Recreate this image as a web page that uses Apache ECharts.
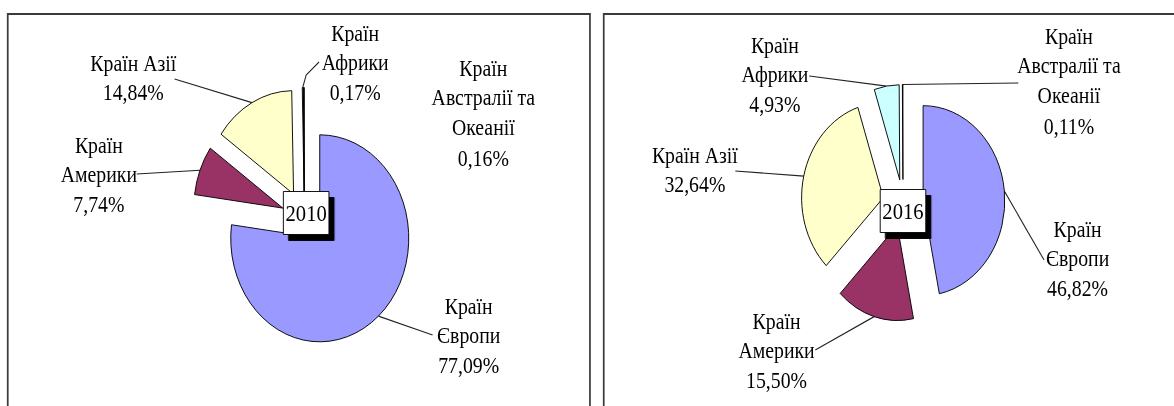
<!DOCTYPE html>
<html lang="uk">
<head>
  <meta charset="UTF-8">
  <title>Pie 2010 / 2016</title>
  <style>
    body {margin: 0; background: #fff; overflow: hidden;}
    /* the original picture is squeezed horizontally, so is this one */
    #main {width: 1365px; height: 406px; transform: scaleX(0.86); transform-origin: 0 0;}
  </style>
</head>
<body>
  <div id="main"></div>

  <script src="https://cdn.jsdelivr.net/npm/echarts@6/dist/echarts.min.js"></script>
  <script>
    // дані
    var regions = ['Країн\nЄвропи', 'Країн\nАмерики', 'Країн Азії', 'Країн\nАфрики', 'Країн\nАвстралії та\nОкеанії'];
    var share2010 = [77.09, 7.74, 14.84, 0.17, 0.16];
    var share2016 = [46.82, 15.50, 32.64, 4.93, 0.11];
    var years = ['2010', '2016'];

    var colors = ['#9999FF', '#993366', '#FFFFCC', '#CCFFFF', '#660066'];

    // label placement (unscaled px): top-centre of every label block, and where its leader ends
    var labelPos = [
      [[545, 291], [115, 130], [155, 48], [413, 18], [562, 53]],
      [[1253, 214], [903, 306], [808, 140], [901, 30], [1243, 21]]
    ];
    var lineEnd = [
      [[[503, 335]], [[159, 174]], [[203, 79]], [[356, 75], [371, 62]], null],
      [[[1214, 260]], [[948, 350]], [[855, 171]], [[941, 76]], [[1184, 83]]]
    ];

    var chart = echarts.init(document.getElementById('main'), null, {renderer: 'svg'});

    function pct(v) {
      return v.toFixed(2).replace('.', ',') + '%';
    }

    // exploded slices, no labels
    function sliceSeries(values, center, radius, offset) {
      return {
        type: 'pie',
        center: center,
        radius: radius,
        startAngle: 90,
        selectedMode: 'multiple',
        selectedOffset: offset,
        animation: false,
        itemStyle: {borderColor: '#000', borderWidth: 1},
        emphasis: {disabled: true},
        label: {show: false},
        labelLine: {show: false},
        data: values.map(function (v, i) {
          return {name: regions[i], value: v, selected: true, itemStyle: {color: colors[i]}};
        })
      };
    }

    // same pie, invisible, only carries labels and leaders
    function labelSeries(k, values, center, radius, offset) {
      return {
        type: 'pie',
        center: center,
        radius: radius,
        startAngle: 90,
        silent: true,
        animation: false,
        avoidLabelOverlap: false,
        itemStyle: {color: 'rgba(0,0,0,0)', borderWidth: 0},
        label: {
          show: true,
          position: 'outside',
          color: '#000',
          fontFamily: 'Liberation Serif',
          fontSize: 23,
          lineHeight: 30,
          align: 'center',
          formatter: function (p) { return p.name + '\n' + pct(p.value); }
        },
        labelLine: {show: true, lineStyle: {color: '#222', width: 1.2}},
        labelLayout: function (p) {
          var pos = labelPos[k][p.dataIndex];
          var ends = lineEnd[k][p.dataIndex];
          var res = {x: pos[0], y: pos[1], align: 'center', verticalAlign: 'top'};
          if (ends && p.labelLinePoints) {
            var p0 = p.labelLinePoints[0];
            var dx = p0[0] - center[0], dy = p0[1] - center[1];
            var len = Math.sqrt(dx * dx + dy * dy) || 1;
            var start = [p0[0] + offset * dx / len, p0[1] + offset * dy / len];
            res.labelLinePoints = [start].concat(ends);
          }
          return res;
        },
        data: values.map(function (v, i) {
          return {name: regions[i], value: v, labelLine: {show: lineEnd[k][i] != null}};
        })
      };
    }

    var pies = [
      {center: [354, 218], radius: 103.5, offset: 27, values: share2010},
      {center: [1050, 203], radius: 95, offset: 23.5, values: share2016}
    ];

    var series = [];
    pies.forEach(function (p, k) {
      series.push(sliceSeries(p.values, p.center, p.radius, p.offset));
      series.push(labelSeries(k, p.values, p.center, p.radius, p.offset));
    });

    var option = {
      title: years.map(function (y, i) {
        return {
          text: y,
          left: [329, 1023][i],
          top: [191, 189][i],
          padding: [10, 3],
          backgroundColor: '#fff',
          borderColor: '#000',
          borderWidth: 1,
          shadowColor: '#000',
          shadowOffsetX: 6,
          shadowOffsetY: 6,
          shadowBlur: 0,
          textStyle: {fontFamily: 'Liberation Serif', fontSize: 24, fontWeight: 'normal', color: '#000', lineHeight: 24}
        };
      }),
      graphic: [
        {type: 'rect', shape: {x: 9, y: 14, width: 677, height: 500}, style: {fill: 'none', stroke: '#3a3a3a', lineWidth: 2}, silent: true},
        {type: 'rect', shape: {x: 702, y: 14, width: 700, height: 500}, style: {fill: 'none', stroke: '#3a3a3a', lineWidth: 2}, silent: true}
      ],
      series: series
    };

    chart.setOption(option);
  </script>
</body>
</html>
